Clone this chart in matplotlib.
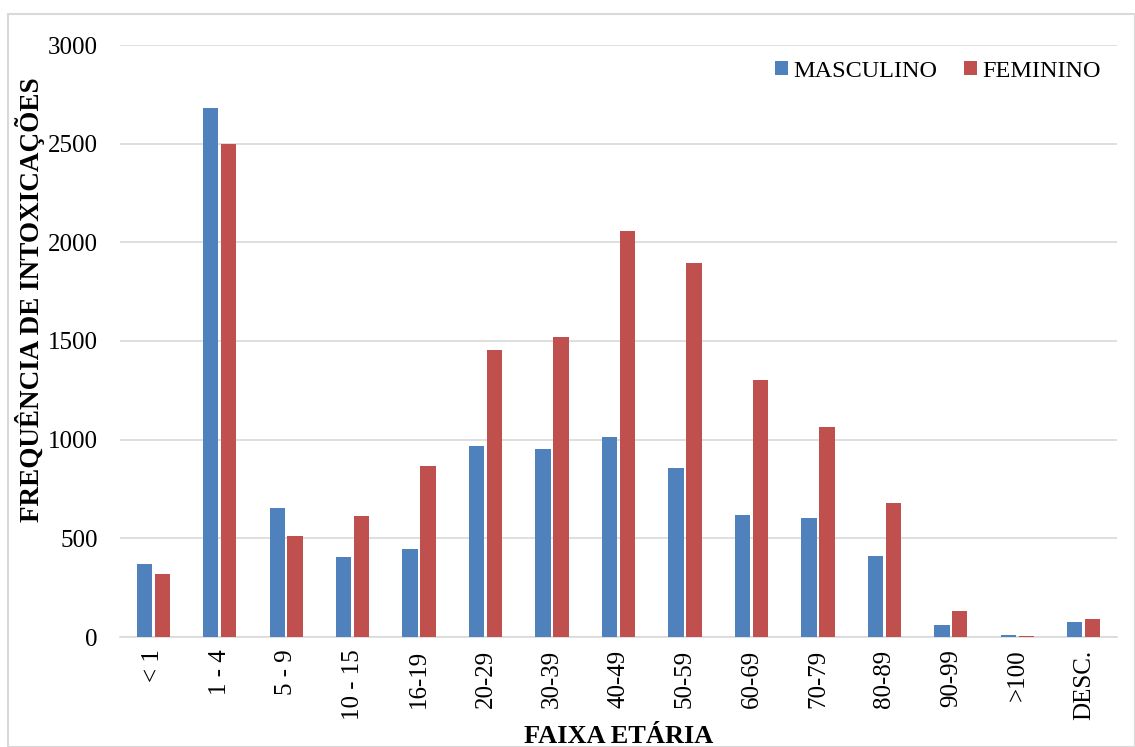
import matplotlib.pyplot as plt
import numpy as np
from matplotlib.patches import Rectangle

# ---------------- DATA ----------------
faixas = ["< 1", "1 - 4", "5 - 9", "10 - 15", "16-19", "20-29", "30-39",
          "40-49", "50-59", "60-69", "70-79", "80-89", "90-99", ">100", "DESC."]

masculino = [370, 2680, 655, 405, 445, 970, 955, 1015, 855, 618, 603, 410, 60, 8, 76]
feminino = [318, 2500, 510, 612, 868, 1455, 1520, 2058, 1895, 1303, 1065, 680, 132, 6, 92]

# ---------------- PLOT ----------------
plt.rcParams["font.family"] = ["Liberation Serif", "DejaVu Serif"]

fig = plt.figure(figsize=(11.35, 7.47), dpi=100)
ax = fig.add_axes([120 / 1135, 1 - 637 / 747, 997 / 1135, 592 / 747])

x = np.arange(len(faixas))
w = 0.23
ax.bar(x - w / 2 - 0.02, masculino, w, color="#4F81BD", label="MASCULINO", zorder=3)
ax.bar(x + w / 2 + 0.02, feminino, w, color="#C0504D", label="FEMININO", zorder=3)

ax.set_xlim(-0.5, len(faixas) - 0.5)
ax.set_ylim(0, 3000)
ax.set_yticks(range(0, 3001, 500))
ax.set_xticks(x)
ax.set_xticklabels(faixas, rotation=90, fontsize=18)
ax.tick_params(axis="y", labelsize=18, length=0, pad=16)
ax.tick_params(axis="x", length=0, pad=9)

ax.grid(axis="y", color="#D9D9D9", linewidth=1.2, zorder=0)
for s in ["top", "right", "left"]:
    ax.spines[s].set_visible(False)
ax.spines["bottom"].set_color("#D9D9D9")
ax.spines["bottom"].set_linewidth(1.2)

ax.set_ylabel("FREQUÊNCIA DE INTOXICAÇÕES", fontsize=19.5, fontweight="bold")
ax.yaxis.set_label_coords(-0.075, 0.57)
ax.set_xlabel("FAIXA ETÁRIA", fontsize=19, fontweight="bold")
ax.xaxis.set_label_coords(0.5, -0.148)

ax.legend(loc="upper right", bbox_to_anchor=(1.006, 1.01), ncol=2, frameon=False,
          fontsize=17.5, handlelength=0.5, handleheight=0.5, handletextpad=0.25,
          columnspacing=1.1)

# border around the chart
fig.patches.append(Rectangle((8 / 1135, 0), 1 - 8 / 1135, 1 - 14 / 747,
                             transform=fig.transFigure, fill=False,
                             edgecolor="#D9D9D9", linewidth=1.5))

fig.savefig("out.png", dpi=100)
